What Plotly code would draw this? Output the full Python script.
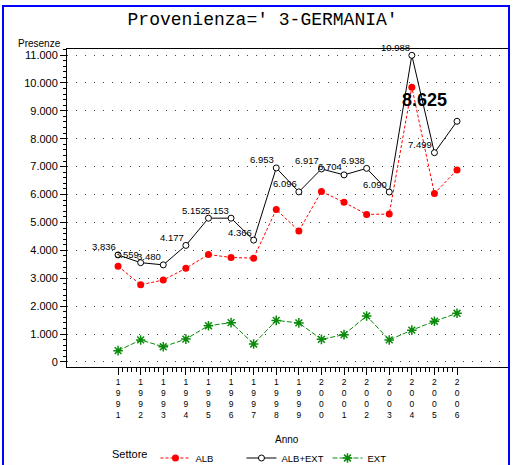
import plotly.graph_objects as go

# ── Data ─────────────────────────────────────────────────────────────────────
YEARS = list(range(1991, 2007))
ALB = [3431, 2769, 2935, 3357, 3852, 3743, 3721, 5463, 4696, 6107, 5724, 5288, 5300, 9848, 6039, 6880]
ALB_EXT = [3836, 3559, 3480, 4177, 5152, 5153, 4366, 6953, 6096, 6917, 6704, 6938, 6090, 10988, 7499, 8625]
EXT = [405, 790, 545, 820, 1300, 1410, 645, 1490, 1400, 810, 980, 1650, 790, 1140, 1460, 1745]
VAL_LABELS = ["3,836", "3.559", "3.480", "4.177", "5.152", "5.153", "4.366", "6.953",
              "6.096", "6.917", "6.704", "6.938", "6.090", "10.988", "7.499", "8.625"]
Y_TICKS = list(range(0, 11001, 1000))
# years written vertically, one digit per line
YEAR_TEXT = ["<br>".join(str(y)) for y in YEARS]

# ── Style ────────────────────────────────────────────────────────────────────
SANS = "Liberation Sans, Arial, sans-serif"
RED = "#ff0000"
GREEN = "#0a8a0a"
BLUE = "#0000ff"

W, H = 520, 465
ML, MR, MT, MB = 67, 11, 49, 98
PW, PH = W - ML - MR, H - MT - MB


def px_x(px):
    return (px - ML) / PW


def px_y(py):
    return (H - MB - py) / PH


fig = go.Figure()

fig.add_trace(go.Scatter(
    x=YEARS, y=ALB, name="ALB", mode="lines+markers",
    line=dict(color=RED, width=1, dash="3px,2px"),
    marker=dict(color=RED, size=7, symbol="circle"),
))
fig.add_trace(go.Scatter(
    x=YEARS, y=ALB_EXT, name="ALB+EXT", mode="lines+markers",
    line=dict(color="black", width=1),
    marker=dict(color="white", size=6, symbol="circle",
                line=dict(color="black", width=1)),
))
fig.add_trace(go.Scatter(
    x=YEARS, y=EXT, name="EXT", mode="lines+markers",
    line=dict(color=GREEN, width=1, dash="5px,2px"),
    marker=dict(color=GREEN, size=8, symbol="asterisk-open",
                line=dict(color=GREEN, width=1.5)),
))

annotations = []

# value labels on ALB+EXT (last one drawn big and bold)
for i, (yr, v, lab) in enumerate(zip(YEARS, ALB_EXT, VAL_LABELS)):
    last = i == len(YEARS) - 1
    annotations.append(dict(
        x=yr, y=v, xref="x", yref="y",
        text="<b>" + lab + "</b>" if last else lab, showarrow=False,
        xanchor="right", yanchor="middle",
        xshift=-8 if last else 0, yshift=21 if last else 8,
        font=dict(family=SANS, size=18 if last else 9.5, color="black"),
    ))

annotations += [
    dict(x=px_x(287), y=px_y(439), xref="paper", yref="paper", text="Anno",
         showarrow=False, xanchor="center", yanchor="middle",
         font=dict(family=SANS, size=10, color="black")),
    dict(x=px_x(63), y=px_y(44), xref="paper", yref="paper", text="Presenze",
         showarrow=False, xanchor="right", yanchor="middle",
         font=dict(family=SANS, size=10, color="black")),
]

# blue page frame (top, left, right; bottom falls outside the window)
shapes = [
    dict(type="rect", xref="paper", yref="paper", x0=px_x(3), x1=px_x(509),
         y0=px_y(475), y1=px_y(6), line=dict(color=BLUE, width=2),
         fillcolor="rgba(0,0,0,0)", layer="above"),
]

minor_x = [yr + k * 0.2 for yr in YEARS[:-1] for k in range(1, 5)]

fig.update_layout(
    width=W, height=H,
    margin=dict(l=ML, r=MR, t=MT, b=MB, autoexpand=False),
    paper_bgcolor="white", plot_bgcolor="white",
    separators=",.",
    title=dict(text="Provenienza=' 3-GERMANIA'", x=0.505, xanchor="center",
               y=1 - 19 / H, yanchor="middle",
               font=dict(family="Liberation Mono, DejaVu Sans Mono, monospace",
                         size=18, color="black")),
    font=dict(family=SANS, size=11, color="black"),
    showlegend=True,
    legend=dict(
        orientation="h", x=px_x(110), xanchor="left", y=px_y(458), yanchor="middle",
        title=dict(text="Settore", font=dict(family=SANS, size=11)),
        font=dict(family=SANS, size=9.5), bgcolor="rgba(0,0,0,0)",
        entrywidth=41, itemwidth=30,
    ),
    xaxis=dict(
        range=[1988.74, 2008.3], showgrid=False, zeroline=False,
        showline=True, linecolor="black", linewidth=1, mirror=True,
        tickmode="array", tickvals=YEARS, ticktext=YEAR_TEXT,
        tickfont=dict(family=SANS, size=8.5, color="black"),
        ticks="outside", ticklen=7, tickcolor="black",
        minor=dict(tickmode="array", tickvals=minor_x, ticks="outside",
                   ticklen=4, tickcolor="black", showgrid=False),
    ),
    yaxis=dict(
        range=[-180, 11215], zeroline=False,
        showline=True, linecolor="black", linewidth=1,
        tickmode="array", tickvals=Y_TICKS, tickformat=",d",
        ticks="outside", ticklen=6, tickcolor="black",
        tickfont=dict(family=SANS, size=11, color="black"),
        showgrid=True, gridcolor="#444444", gridwidth=1, griddash="1px,8px",
        minor=dict(dtick=200, ticks="outside", ticklen=3, tickcolor="black",
                   showgrid=False),
    ),
    annotations=annotations,
    shapes=shapes,
)

# drop the page's default body margin so the figure sits at the window's corner
fig.write_html("out.html", config={"displayModeBar": False},
               post_script="document.body.style.margin='0';")
